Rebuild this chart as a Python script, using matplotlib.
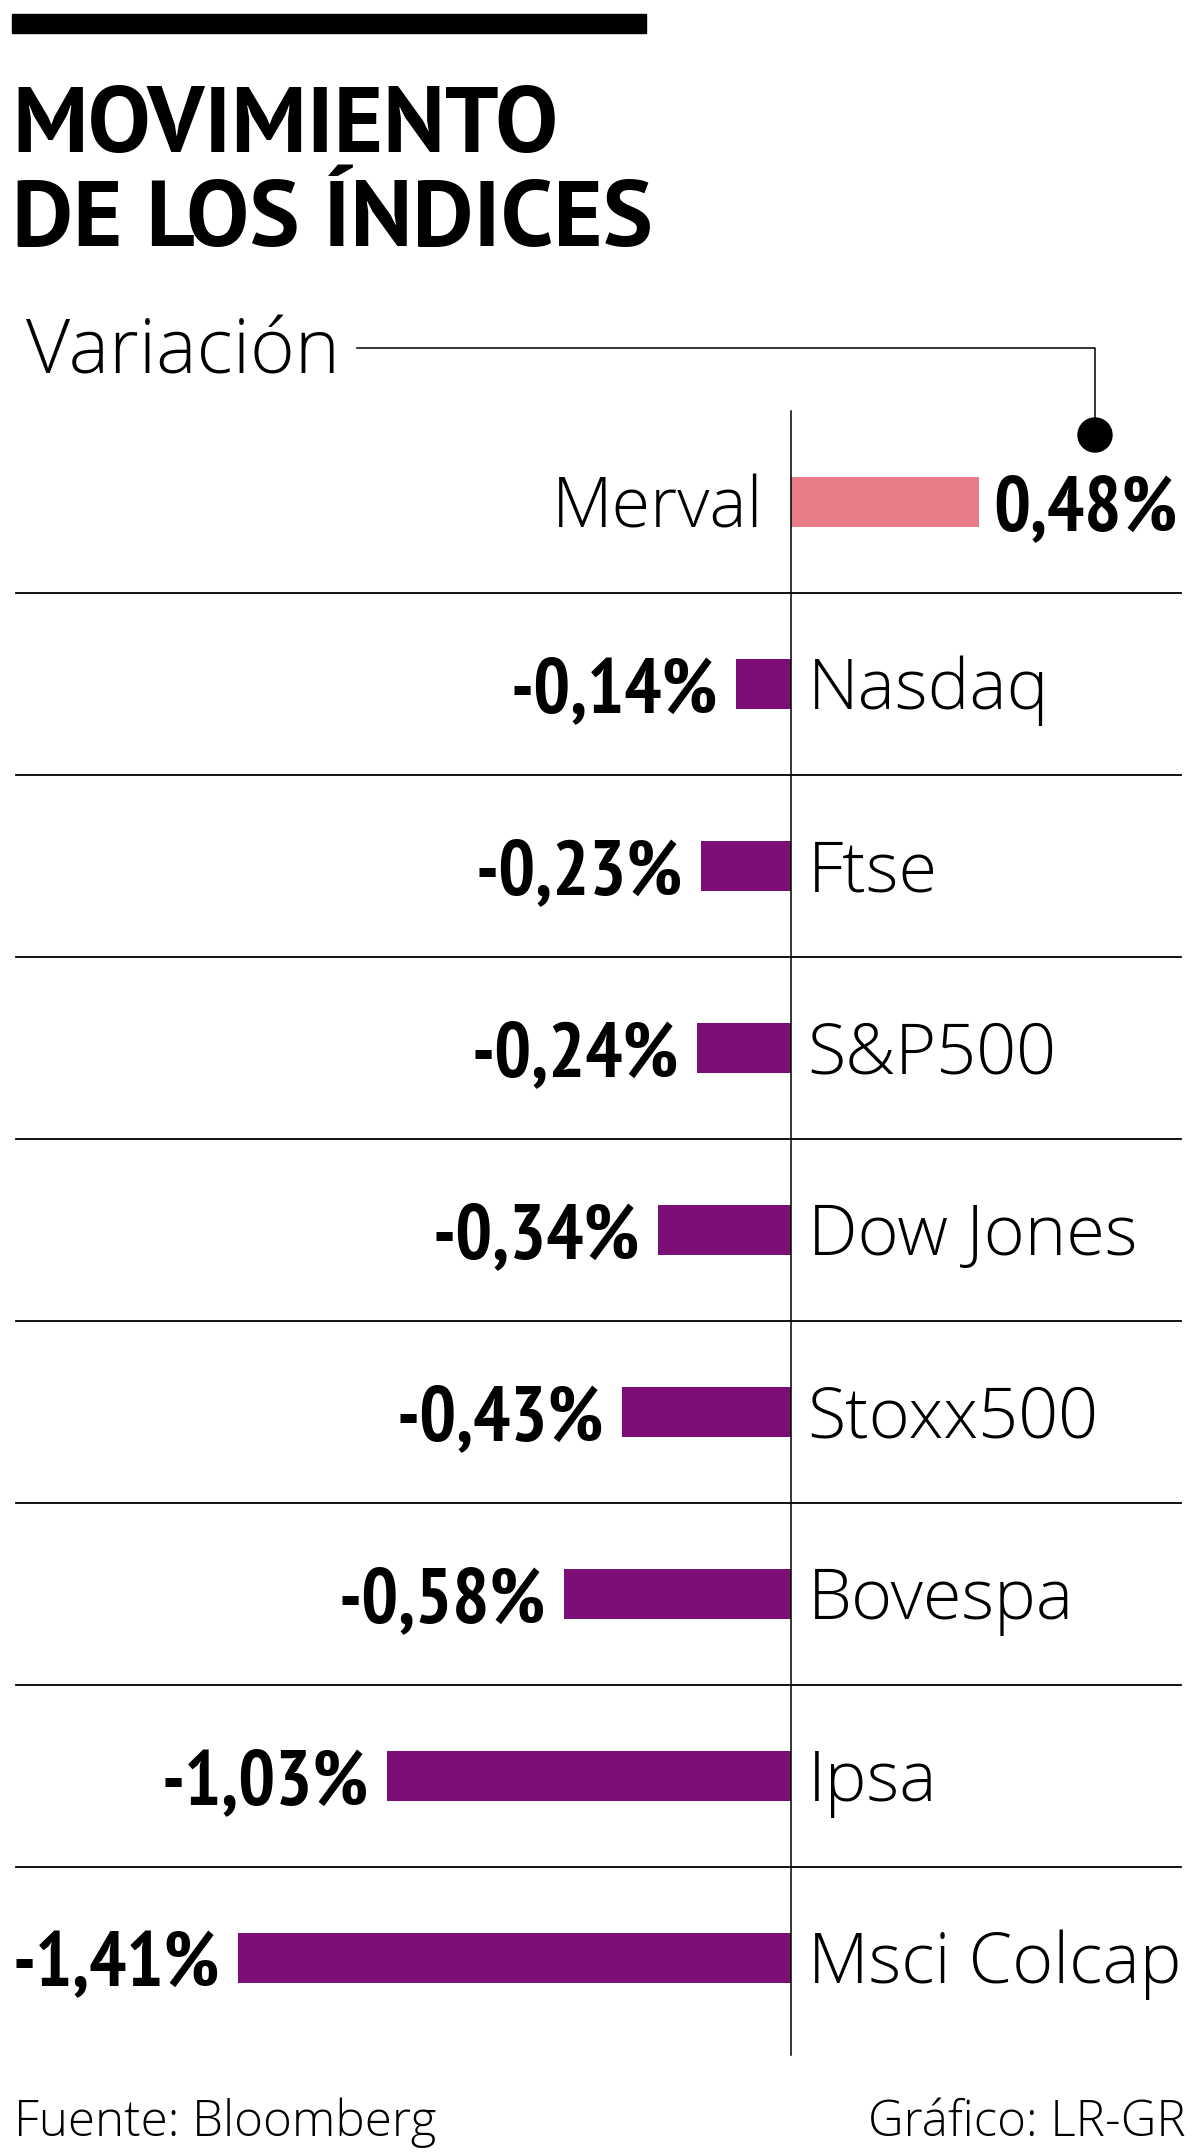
import matplotlib
matplotlib.use("Agg")
import matplotlib.pyplot as plt
from matplotlib.patches import Rectangle, Circle

# datos
indices = ["Merval", "Nasdaq", "Ftse", "S&P500", "Dow Jones",
           "Stoxx500", "Bovespa", "Ipsa", "Msci Colcap"]
variacion = [0.48, -0.14, -0.23, -0.24, -0.34, -0.43, -0.58, -1.03, -1.41]

titulo = ["MOVIMIENTO", "DE LOS ÍNDICES"]
subtitulo = "Variación"
fuente = "Fuente: Bloomberg"
grafico = "Gráfico: LR-GR"

color_pos = "#E97B87"
color_neg = "#7B0F76"

W, H = 1200, 2156
fig = plt.figure(figsize=(W / 100, H / 100), dpi=100)
fig.patch.set_facecolor("white")

# ejes de las barras: 0 en x=791 px, 392 px por punto porcentual, 182 px por fila
ax = fig.add_axes([0, 0, 1, 1])
x0, escala = 791, 392
y0, paso = 502, 182
ax.set_xlim(-x0 / escala, (W - x0) / escala)
ax.set_ylim((H - y0) / paso, -y0 / paso)
ax.axis("off")

filas = list(range(len(indices)))
colores = [color_pos if v > 0 else color_neg for v in variacion]
ax.barh(filas, variacion, height=0.28, color=colores, zorder=2)

# separadores y eje central
for i in filas[:-1]:
    ax.axhline(i + 0.5, xmin=16 / W, xmax=1181 / W, color="black", lw=1.3, zorder=1)
ax.axvline(0, ymin=1 - 2055 / H, ymax=1 - 411 / H, color="black", lw=1.1, zorder=3)

f_nombre = dict(family="Open Sans", weight=300, fontsize=50.5)
f_valor = dict(family=["PT Sans Narrow", "Open Sans Condensed"], weight="bold",
               stretch="condensed", fontsize=56)

for i, (nom, v) in enumerate(zip(indices, variacion)):
    etiqueta = f"{v:.2f}%".replace(".", ",")
    cap_n = -0.357 * f_nombre["fontsize"]
    cap_v = -0.357 * f_valor["fontsize"]
    if v > 0:
        ax.annotate(nom, (0, i), xytext=(-20, cap_n), textcoords="offset points",
                    ha="right", va="baseline", **f_nombre)
        ax.annotate(etiqueta, (v, i), xytext=(10, cap_v), textcoords="offset points",
                    ha="left", va="baseline", **f_valor)
    else:
        ax.annotate(nom, (0, i), xytext=(12, cap_n), textcoords="offset points",
                    ha="left", va="baseline", **f_nombre)
        ax.annotate(etiqueta, (v, i), xytext=(-13, cap_v), textcoords="offset points",
                    ha="right", va="baseline", **f_valor)

# capa de textos y adornos en pixeles
lay = fig.add_axes([0, 0, 1, 1], facecolor="none")
lay.set_xlim(0, W)
lay.set_ylim(H, 0)
lay.axis("off")

lay.add_patch(Rectangle((12, 14), 634, 19, color="black"))
lay.text(12, 152, titulo[0], family="PT Sans", weight="bold", fontsize=68, va="baseline")
lay.text(12, 246, titulo[1], family="PT Sans", weight="bold", fontsize=68, va="baseline")

lay.text(26, 374, subtitulo, family="Open Sans", weight=300, fontsize=55, va="baseline")
lay.plot([357, 1095, 1095], [348, 348, 425], color="black", lw=1.1)
lay.add_patch(Circle((1095, 435), 17, color="black"))

lay.text(14, 2136, fuente, family="Open Sans", weight=300, fontsize=35.5, va="baseline")
lay.text(1186, 2136, grafico, family="Open Sans", weight=300, fontsize=35.5,
         va="baseline", ha="right")

fig.savefig("out.png", dpi=100)
